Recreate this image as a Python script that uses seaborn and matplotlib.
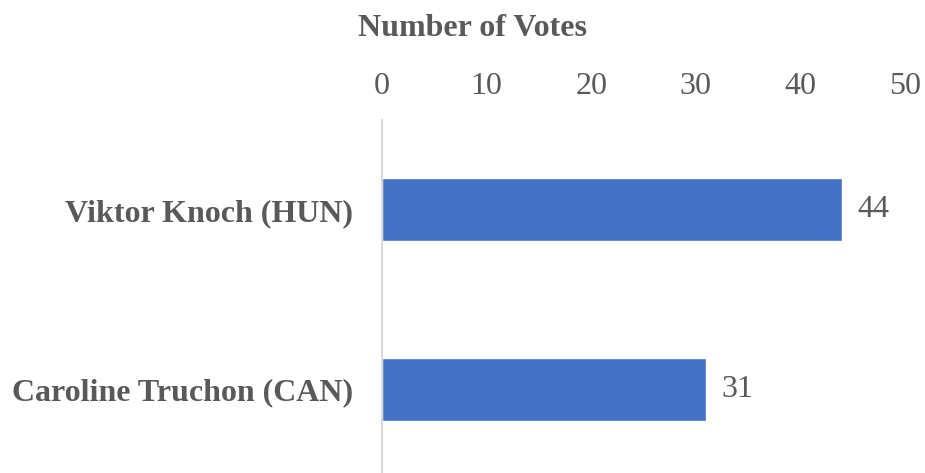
import seaborn as sns
import matplotlib.pyplot as plt
import pandas as pd

athletes = ['Viktor Knoch (HUN)', 'Caroline Truchon (CAN)']
votes = [44, 31]
x_ticks = [0, 10, 20, 30, 40, 50]

df = pd.DataFrame({'athlete': athletes, 'votes': votes})

sns.set_style('white')
plt.rcParams['font.family'] = ['Liberation Serif', 'DejaVu Serif']
text_color = '#595959'
fs = 23

fig = plt.figure(figsize=(9.25, 4.73), dpi=100)
ax = fig.add_axes([382 / 925, 0, (905 - 382) / 925, 1 - 120 / 473])

sns.barplot(data=df, x='votes', y='athlete', color='#4472C4', width=0.35,
            saturation=1, ax=ax)

ax.set_xlim(0, 50)
ax.set_ylim(1.467, -0.5)
ax.set_xticks(x_ticks)
ax.xaxis.tick_top()
ax.xaxis.set_label_position('top')
ax.tick_params(axis='x', length=0, pad=14, labelsize=fs, labelcolor=text_color)
ax.tick_params(axis='y', length=0, pad=21, labelsize=fs, labelcolor=text_color)
for lbl in ax.get_yticklabels():
    lbl.set_fontweight('bold')
ax.set_xlabel('Number of Votes', fontsize=fs, fontweight='bold', color=text_color)
ax.xaxis.label.set_va('center')
ax.xaxis.set_label_coords((472 - 382) / 523, 1 + (120 - 28) / 353)
ax.set_ylabel('')

for side in ['top', 'right', 'bottom']:
    ax.spines[side].set_visible(False)
ax.spines['left'].set_color('#d9d9d9')
ax.spines['left'].set_linewidth(1.5)

for i, v in enumerate(votes):
    ax.annotate(str(v), (v, i), xytext=(11, 0), textcoords='offset points',
                va='center', ha='left', fontsize=fs, color=text_color)

plt.savefig('out.png', dpi=100)
